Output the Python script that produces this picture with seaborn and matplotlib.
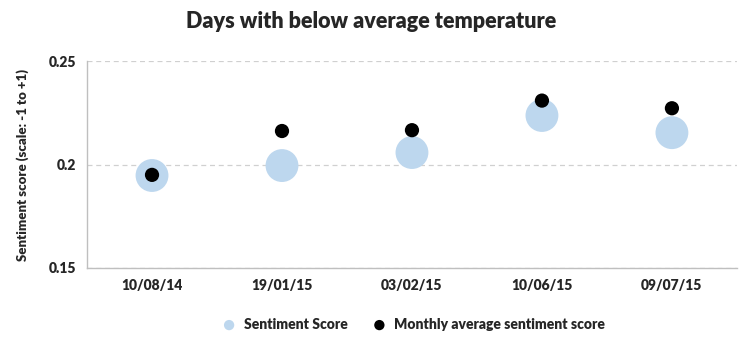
import matplotlib
matplotlib.use("Agg")
import matplotlib.pyplot as plt
import seaborn as sns
import pandas as pd

# values
dates = ["10/08/14", "19/01/15", "03/02/15", "10/06/15", "09/07/15"]
sentiment = [0.1947, 0.1995, 0.2058, 0.2237, 0.2154]
monthly_avg = [0.1950, 0.2162, 0.2166, 0.2309, 0.2272]

df = pd.DataFrame({"date": dates, "sentiment": sentiment, "monthly": monthly_avg})

sns.set_style("white")
plt.rcParams["font.family"] = ["Lato", "DejaVu Sans"]

fig = plt.figure(figsize=(7.47, 3.51), dpi=100)
ax = fig.add_axes([0.1165, 0.2365, 0.87, 0.5895])

sns.scatterplot(data=df, x="date", y="sentiment", ax=ax, s=560, color="#BDD7EE",
                edgecolor="none", label="Sentiment Score", zorder=2)
sns.scatterplot(data=df, x="date", y="monthly", ax=ax, s=105, color="black",
                edgecolor="none", label="Monthly average sentiment score", zorder=3)

ax.set_xlim(-0.5, 4.5)
ax.set_ylim(0.15, 0.25)
ax.set_yticks([0.15, 0.2, 0.25])
ax.set_yticklabels(["0.15", "0.2", "0.25"])
ax.yaxis.grid(True, color="#D0D0D0", linestyle=(0, (4, 3)), linewidth=0.9)
ax.set_axisbelow(True)
ax.tick_params(length=0, labelsize=10, pad=8)
for lbl in ax.get_xticklabels() + ax.get_yticklabels():
    lbl.set_fontweight("heavy")

for side in ["top", "right"]:
    ax.spines[side].set_visible(False)
for side in ["left", "bottom"]:
    ax.spines[side].set_color("#BFBFBF")
    ax.spines[side].set_linewidth(1)

ax.set_xlabel("")
ax.set_ylabel("Sentiment score (scale: -1 to +1)", fontsize=9.5, fontweight="heavy", labelpad=14)
fig.suptitle("Days with below average temperature", x=0.497, y=0.97,
             fontsize=15.5, fontweight="heavy")

leg = ax.legend(loc="upper center", bbox_to_anchor=(0.497, -0.18), ncol=2, frameon=False,
                fontsize=10, handletextpad=0.05, columnspacing=1.3)
for t in leg.get_texts():
    t.set_fontweight("heavy")
for h in leg.legend_handles:
    h.set_sizes([55])

fig.savefig("out.png", dpi=100)
